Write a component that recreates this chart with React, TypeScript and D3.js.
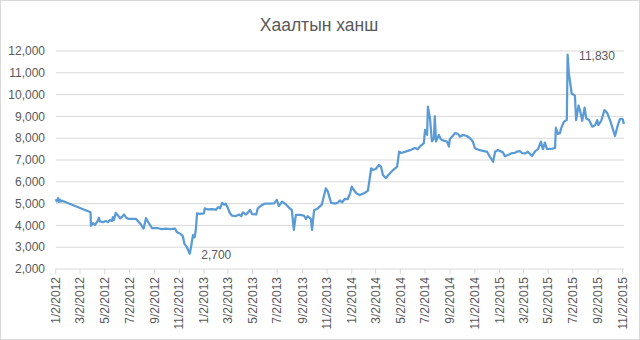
import React from 'react';
import * as d3 from 'd3';

const W = 640;
const H = 340;

// Хаалтын ханш (closing rate)
const dates = [
  '2012-01-02', '2012-01-05', '2012-01-08', '2012-01-10', '2012-01-13', '2012-01-15', '2012-01-18',
  '2012-03-28', '2012-03-29', '2012-04-03', '2012-04-08', '2012-04-13', '2012-04-18', '2012-04-20',
  '2012-04-28', '2012-05-05', '2012-05-10', '2012-05-15', '2012-05-20', '2012-05-22', '2012-05-25',
  '2012-05-29', '2012-06-04', '2012-06-09', '2012-06-14', '2012-06-19', '2012-06-24', '2012-06-29',
  '2012-07-08', '2012-07-18', '2012-07-28', '2012-08-06', '2012-08-12', '2012-08-19', '2012-08-27',
  '2012-09-11', '2012-09-20', '2012-09-30', '2012-10-10', '2012-10-23', '2012-10-27', '2012-11-06',
  '2012-11-11', '2012-11-15', '2012-11-21', '2012-11-28', '2012-12-02', '2012-12-06', '2012-12-10',
  '2012-12-13', '2012-12-16', '2012-12-23', '2013-01-02', '2013-01-04', '2013-01-12', '2013-01-22',
  '2013-02-01', '2013-02-06', '2013-02-11', '2013-02-16', '2013-02-21', '2013-02-25', '2013-03-02',
  '2013-03-07', '2013-03-12', '2013-03-22', '2013-03-30', '2013-04-04', '2013-04-08', '2013-04-16',
  '2013-04-26', '2013-05-01', '2013-05-11', '2013-05-15', '2013-05-25', '2013-06-02', '2013-06-14',
  '2013-06-24', '2013-07-01', '2013-07-06', '2013-07-14', '2013-07-24', '2013-08-02', '2013-08-07',
  '2013-08-12', '2013-08-17', '2013-08-27', '2013-09-06', '2013-09-11', '2013-09-15', '2013-09-23',
  '2013-09-26', '2013-10-01', '2013-10-10', '2013-10-20', '2013-10-30', '2013-11-04', '2013-11-12',
  '2013-11-22', '2013-11-29', '2013-12-04', '2013-12-09', '2013-12-16', '2013-12-23', '2013-12-29',
  '2014-01-02', '2014-01-10', '2014-01-15', '2014-01-22', '2014-02-04', '2014-02-11', '2014-02-16',
  '2014-02-19', '2014-02-23', '2014-03-03', '2014-03-10', '2014-03-15', '2014-03-20', '2014-03-27',
  '2014-04-04', '2014-04-14', '2014-04-24', '2014-04-29', '2014-05-04', '2014-05-13', '2014-05-26',
  '2014-06-07', '2014-06-14', '2014-06-19', '2014-06-29', '2014-07-02', '2014-07-07', '2014-07-09',
  '2014-07-14', '2014-07-19', '2014-07-24', '2014-07-26', '2014-07-29', '2014-08-05', '2014-08-10',
  '2014-08-15', '2014-08-25', '2014-08-30', '2014-09-01', '2014-09-14', '2014-09-21', '2014-09-26',
  '2014-10-04', '2014-10-13', '2014-10-21', '2014-10-28', '2014-11-02', '2014-11-14', '2014-11-27',
  '2014-12-02', '2014-12-09', '2014-12-17', '2014-12-22', '2014-12-29', '2015-01-10', '2015-01-15',
  '2015-01-23', '2015-02-02', '2015-02-09', '2015-02-16', '2015-02-21', '2015-02-26', '2015-03-06',
  '2015-03-13', '2015-03-23', '2015-03-31', '2015-04-07', '2015-04-14', '2015-04-19', '2015-04-24',
  '2015-04-29', '2015-05-12', '2015-05-19', '2015-05-21', '2015-05-26', '2015-05-31', '2015-06-03',
  '2015-06-10', '2015-06-17', '2015-06-19', '2015-06-22', '2015-06-29', '2015-07-07', '2015-07-10',
  '2015-07-16', '2015-07-20', '2015-07-25', '2015-07-31', '2015-08-04', '2015-08-11', '2015-08-19',
  '2015-08-26', '2015-08-31', '2015-09-03', '2015-09-10', '2015-09-18', '2015-09-25', '2015-10-03',
  '2015-10-14', '2015-10-21', '2015-10-26', '2015-11-02', '2015-11-05',
];

const rates = [
  5200, 5100, 5250, 5080, 5180, 5100, 5130,
  4600, 3980, 4100, 4020, 4150, 4350, 4180,
  4150, 4200, 4150, 4250, 4200, 4380, 4250,
  4570, 4450, 4320, 4400, 4500, 4350, 4300,
  4300, 4300, 4100, 3850, 4330, 4100, 3880,
  3870, 3830, 3850, 3830, 3850, 3700, 3600,
  3500, 3150, 3000, 2700, 3100, 3550, 3450,
  3800, 4550, 4530, 4550, 4780, 4730, 4750,
  4720, 4840, 4780, 5030, 4950, 5000, 4800,
  4570, 4450, 4430, 4500, 4420, 4600, 4500,
  4700, 4520, 4500, 4780, 4930, 5000, 5000,
  5010, 5170, 4890, 5090, 4950, 4780, 4700,
  3800, 4480, 4480, 4450, 4300, 4420, 4300,
  3790, 4700, 4780, 4950, 5700, 5550, 5030,
  5000, 5050, 5150, 5050, 5220, 5200, 5470,
  5780, 5550, 5450, 5390, 5500, 5600, 6230,
  6620, 6540, 6600, 6770, 6700, 6310, 6170,
  6350, 6540, 6700, 7380, 7320, 7370, 7450,
  7550, 7500, 7610, 7770, 8380, 8150, 9450,
  8930, 7850, 8000, 9000, 7850, 8150, 7950,
  7900, 7850, 7610, 7950, 8230, 8200, 8070,
  8150, 8100, 8000, 7850, 7540, 7450, 7400,
  7380, 7150, 6920, 7380, 7460, 7350, 7180,
  7230, 7320, 7330, 7400, 7410, 7320, 7300,
  7380, 7180, 7410, 7500, 7840, 7500, 7800,
  7500, 7520, 7550, 8480, 8200, 8230, 8450,
  8760, 8830, 11830, 10980, 10050, 9950, 8830,
  9500, 9250, 8800, 9400, 8900, 8830, 8530,
  8600, 8830, 8600, 8800, 9290, 9150, 8760,
  8100, 8600, 8870, 8880, 8650,
];

const yTicks = [2000, 3000, 4000, 5000, 6000, 7000, 8000, 9000, 10000, 11000, 12000];

const xTickDates = [
  '2012-01-02', '2012-03-02', '2012-05-02', '2012-07-02', '2012-09-02', '2012-11-02',
  '2013-01-02', '2013-03-02', '2013-05-02', '2013-07-02', '2013-09-02', '2013-11-02',
  '2014-01-02', '2014-03-02', '2014-05-02', '2014-07-02', '2014-09-02', '2014-11-02',
  '2015-01-02', '2015-03-02', '2015-05-02', '2015-07-02', '2015-09-02', '2015-11-02',
];

// points that carry a data label
const labelled = ['2012-11-28', '2015-06-19'];

const parse = d3.utcParse('%Y-%m-%d');
const fmtDate = d3.utcFormat('%-m/%-d/%Y');
const fmtKey = d3.utcFormat('%Y-%m-%d');
const fmtNum = d3.format(',');

const margin = { left: 55.7, right: 16, top: 51, bottom: 71 };

export default function App() {
  const series = dates.map((d, i) => ({ date: parse(d) as Date, value: rates[i] }));

  const x = d3.scaleUtc()
    .domain([parse(dates[0]) as Date, parse('2015-11-02') as Date])
    .range([margin.left, 622.7]);
  const y = d3.scaleLinear()
    .domain([2000, 12000])
    .range([H - margin.bottom, margin.top]);

  const line = d3.line<{ date: Date; value: number }>()
    .x(d => x(d.date))
    .y(d => y(d.value));

  const gridRight = W - margin.right;
  const labelColor = '#595959';

  return (
    <div style={{ position: 'fixed', left: 0, top: 0, width: W, height: H, background: '#fff' }}>
      <svg width={W} height={H} style={{ display: 'block', fontFamily: '"Liberation Sans", Arial, sans-serif' }}>
        <rect x={0.5} y={0.5} width={W - 1} height={H - 1} fill="#fff" stroke="#d9d9d9" />

        <text x={319} y={31} textAnchor="middle" fontSize={17.5} fill={labelColor}>
          Хаалтын ханш
        </text>

        {/* gridlines + y labels */}
        {yTicks.map(t => (
          <g key={t}>
            <line x1={margin.left} x2={gridRight} y1={y(t)} y2={y(t)} stroke="#d9d9d9" strokeWidth={1} />
            <text x={45} y={y(t)} dy="0.35em" textAnchor="end" fontSize={12} fill={labelColor}>
              {fmtNum(t)}
            </text>
          </g>
        ))}

        {/* x ticks + rotated labels */}
        {xTickDates.map(s => {
          const d = parse(s) as Date;
          const px = x(d);
          return (
            <g key={s} transform={`translate(${px},${y(2000)})`}>
              <line y1={0} y2={5} stroke="#d9d9d9" />
              <text
                transform="rotate(-90)"
                x={-8}
                dy="0.35em"
                textAnchor="end"
                fontSize={12}
                fill={labelColor}
              >
                {fmtDate(d)}
              </text>
            </g>
          );
        })}

        <path d={line(series) || ''} fill="none" stroke="#5b9bd5" strokeWidth={2.25} strokeLinejoin="round" />

        {series.filter(p => labelled.includes(fmtKey(p.date))).map(p => (
          <text
            key={p.value}
            x={x(p.date) + 11.5}
            y={y(p.value) + 1.5}
            dy="0.35em"
            fontSize={12}
            fill={labelColor}
          >
            {fmtNum(p.value)}
          </text>
        ))}
      </svg>
    </div>
  );
}
